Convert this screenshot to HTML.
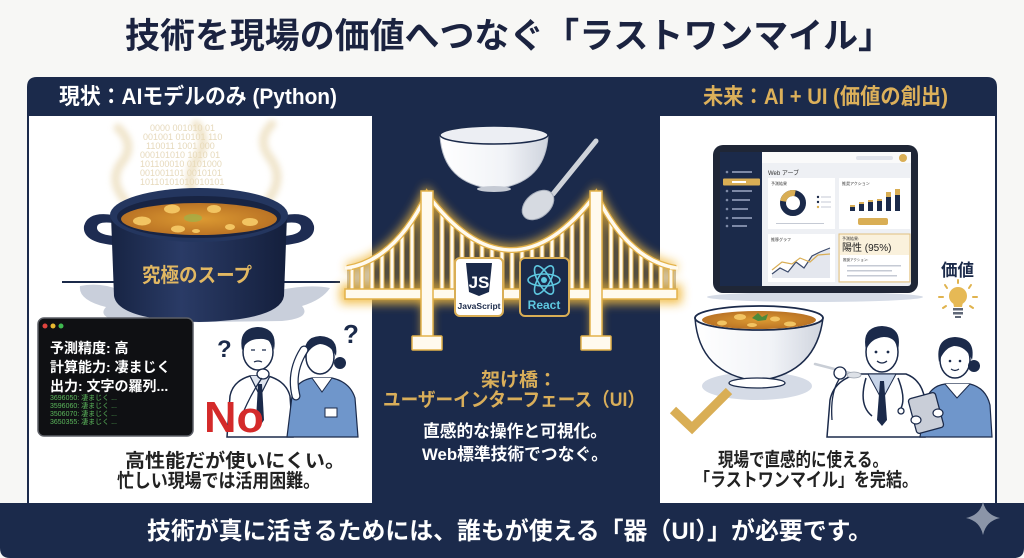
<!DOCTYPE html>
<html><head><meta charset="utf-8">
<style>
html,body{margin:0;padding:0;background:#f7f7f5;}
svg{display:block;}
text{font-family:"Liberation Sans","Noto Sans CJK JP",sans-serif;}
.mono{font-family:"Liberation Mono","Noto Sans CJK JP",monospace;}
</style></head><body>
<svg width="1024" height="558" viewBox="0 0 1024 558" xmlns="http://www.w3.org/2000/svg">
<defs>
 <filter id="glow" x="-20%" y="-40%" width="140%" height="180%"><feGaussianBlur stdDeviation="5"/></filter>
 <filter id="blur3" x="-50%" y="-50%" width="200%" height="200%"><feGaussianBlur stdDeviation="3"/></filter>
 <linearGradient id="potg" x1="0" x2="1" y1="0" y2="0">
   <stop offset="0" stop-color="#172443"/><stop offset="0.4" stop-color="#2a3b66"/><stop offset="1" stop-color="#141f3c"/>
 </linearGradient>
 <radialGradient id="soup" cx="0.5" cy="0.5" r="0.6">
   <stop offset="0" stop-color="#dc9a32"/><stop offset="1" stop-color="#b46c22"/>
 </radialGradient>
 <linearGradient id="bowlg" x1="0" x2="1" y1="0" y2="0">
   <stop offset="0" stop-color="#ffffff"/><stop offset="0.6" stop-color="#f1f3f7"/><stop offset="1" stop-color="#cfd4de"/>
 </linearGradient>
 <clipPath id="bclip">
   <path d="M347 268 Q395 260 427 194 Q511 306 596 194 Q628 260 676 268 V292 H347 Z"/>
 </clipPath>
</defs>

<rect width="1024" height="558" fill="#f7f7f5"/>

<!-- Title -->
<text x="125" y="48" font-size="35" font-weight="bold" fill="#1b2340" textLength="768" lengthAdjust="spacingAndGlyphs">技術を現場の価値へつなぐ「ラストワンマイル」</text>

<!-- Navy frame -->
<path d="M27 87 Q27 77 37 77 H987 Q997 77 997 87 V503 H1024 V548 Q1024 558 1014 558 H10 Q0 558 0 548 V503 H27 Z" fill="#1b2a4b"/>

<!-- Header labels -->
<text x="59" y="104" font-size="22" font-weight="bold" fill="#ffffff" textLength="278" lengthAdjust="spacingAndGlyphs">現状：AIモデルのみ (Python)</text>
<text x="703" y="104" font-size="22" font-weight="bold" fill="#dcb05a" textLength="245" lengthAdjust="spacingAndGlyphs">未来：AI + UI (価値の創出)</text>

<!-- White panels -->
<rect x="29" y="116" width="343" height="387" fill="#ffffff"/>
<rect x="660" y="116" width="335" height="387" fill="#ffffff"/>

<!-- ============ LEFT PANEL ============ -->
<!-- binary -->
<g class="mono" font-size="9" fill="#e6d9bb">
 <text x="150" y="131">  0000  001010   01</text>
 <text x="143" y="140">001001 010101  110</text>
 <text x="146" y="149">110011   1001  000</text>
 <text x="140" y="158">000101010 1010  01</text>
 <text x="140" y="167">101100010 0101000</text>
 <text x="140" y="176">001001101  0010101</text>
 <text x="140" y="185">10110101010010101</text>
</g>
<!-- steam -->
<g fill="none" stroke="#ebdcb9" stroke-width="9" stroke-linecap="round" opacity="0.7" filter="url(#blur3)">
 <path d="M125 200 Q108 180 122 162 Q136 145 118 128"/>
 <path d="M197 205 Q184 180 196 160 Q210 140 196 124"/>
 <path d="M268 200 Q285 178 270 158 Q256 140 272 124"/>
</g>
<!-- table line & shadow -->
<path d="M80 286 Q100 282 120 290 L280 290 Q310 284 330 288 Q322 300 302 306 Q312 318 282 321 L130 323 Q95 319 106 307 Q78 300 80 286 Z" fill="#c9cfdb"/>
<line x1="62" y1="282" x2="340" y2="282" stroke="#1b2a4a" stroke-width="2"/>
<!-- pot -->
<path d="M113 215 Q88 211 84 226 Q82 242 113 245 L113 236 Q96 234 97 227 Q98 221 113 223 Z" fill="#1e2c52"/>
<path d="M285 215 Q310 211 314 226 Q316 242 285 245 L285 236 Q302 234 301 227 Q300 221 285 223 Z" fill="#1e2c52"/>
<path d="M111 216 L114 296 Q118 320 199 322 Q280 320 284 296 L287 216 Z" fill="url(#potg)"/>
<ellipse cx="199" cy="215" rx="89" ry="27" fill="#24365f"/>
<ellipse cx="199" cy="217" rx="82" ry="21" fill="#182443"/>
<ellipse cx="199" cy="219" rx="78" ry="16" fill="url(#soup)"/>
<g fill="#f2c462">
 <ellipse cx="172" cy="209" rx="8" ry="4.5"/>
 <ellipse cx="214" cy="209" rx="7" ry="4"/>
 <ellipse cx="142" cy="221" rx="9" ry="4.5"/>
 <ellipse cx="250" cy="222" rx="8" ry="4"/>
 <ellipse cx="178" cy="229" rx="7" ry="3.5"/>
 <ellipse cx="230" cy="227" rx="5" ry="3"/>
 <ellipse cx="196" cy="231" rx="4" ry="2"/>
</g>
<ellipse cx="193" cy="218" rx="9" ry="4" fill="#9bb24a" opacity="0.7"/>
<text x="142" y="282" font-size="20" font-weight="bold" fill="#e2b862" textLength="110" lengthAdjust="spacingAndGlyphs">究極のスープ</text>

<!-- terminal -->
<rect x="38" y="318" width="155" height="118" rx="6" fill="#0f1013" stroke="#5c5f66" stroke-width="1.5"/>
<circle cx="45" cy="326" r="2.5" fill="#e0443e"/>
<circle cx="53" cy="326" r="2.5" fill="#e8b830"/>
<circle cx="61" cy="326" r="2.5" fill="#3fb950"/>
<g font-size="14" font-weight="bold" fill="#ffffff">
 <text x="50" y="353">予測精度: 高</text>
 <text x="50" y="372">計算能力: 凄まじく</text>
 <text x="50" y="391">出力: 文字の羅列...</text>
</g>
<g class="mono" font-size="7" fill="#5cb85c">
 <text x="50" y="400">3696050: 凄まじく ...</text>
 <text x="50" y="408">3596060: 凄まじく ...</text>
 <text x="50" y="416">3506070: 凄まじく ...</text>
 <text x="50" y="424">3650355: 凄まじく ...</text>
</g>

<!-- left doctor -->
<path d="M227 437 L230 396 Q233 381 250 376 L268 376 Q286 381 290 396 L293 437 Z" fill="#fff" stroke="#1b2a4a" stroke-width="1.5"/>
<path d="M250 376 L260 396 L270 376" fill="#dfe5ef" stroke="#1b2a4a" stroke-width="1.2"/>
<path d="M258 384 L262 384 L264 420 L260 426 L256 420 Z" fill="#1b2a4a"/>
<ellipse cx="258" cy="352" rx="15" ry="18" fill="#fff" stroke="#1b2a4a" stroke-width="1.5"/>
<path d="M242 350 Q238 328 258 327 Q278 328 274 350 Q272 338 259 339 Q247 339 242 350 Z" fill="#1b2a4a"/>
<path d="M251 350 h4 M262 350 h4" stroke="#1b2a4a" stroke-width="1.3"/>
<path d="M254 362 q4 -2 8 0" stroke="#1b2a4a" stroke-width="1.2" fill="none"/>
<ellipse cx="263" cy="374" rx="6" ry="5" fill="#fff" stroke="#1b2a4a" stroke-width="1.3"/>
<path d="M240 420 Q250 395 262 378" stroke="#1b2a4a" stroke-width="1.3" fill="none"/>
<!-- left nurse -->
<path d="M287 437 L292 396 Q296 381 312 378 L332 378 Q350 382 355 398 L358 437 Z" fill="#6f96cb" stroke="#1b2a4a" stroke-width="1.2"/>
<path d="M312 378 L322 392 L332 378" fill="#fff" stroke="#1b2a4a" stroke-width="1"/>
<ellipse cx="320" cy="357" rx="14" ry="17" fill="#fff" stroke="#1b2a4a" stroke-width="1.5"/>
<path d="M305 358 Q302 337 320 336 Q339 337 336 356 Q331 345 320 344 Q310 346 305 358 Z" fill="#1b2a4a"/>
<circle cx="340" cy="363" r="6" fill="#1b2a4a"/>
<path d="M296 396 Q290 372 304 350" stroke="#1b2a4a" stroke-width="9" fill="none" stroke-linecap="round"/>
<path d="M296 396 Q290 372 304 350" stroke="#fff" stroke-width="6.5" fill="none" stroke-linecap="round"/>
<rect x="325" y="408" width="12" height="9" fill="#fff" stroke="#1b2a4a" stroke-width="1"/>
<text x="217" y="357" font-size="24" font-weight="bold" fill="#1b2a4a">?</text>
<text x="343" y="343" font-size="26" font-weight="bold" fill="#1b2a4a">?</text>
<text x="204" y="432" font-size="44" font-weight="bold" fill="#d42a2a" textLength="60" lengthAdjust="spacingAndGlyphs">No</text>

<!-- left caption -->
<text x="125" y="467" font-size="19" font-weight="bold" fill="#222" textLength="220" lengthAdjust="spacingAndGlyphs">高性能だが使いにくい。</text>
<text x="117" y="487" font-size="19" font-weight="bold" fill="#222" textLength="203" lengthAdjust="spacingAndGlyphs">忙しい現場では活用困難。</text>

<!-- ============ CENTER ============ -->
<!-- bowl -->
<path d="M440 136 Q443 184 494 189 Q545 184 548 136 Z" fill="url(#bowlg)" stroke="#b9bfcb" stroke-width="1"/>
<ellipse cx="494" cy="135" rx="54" ry="9" fill="#eceef3" stroke="#1b2a4a" stroke-width="1.5"/>
<ellipse cx="494" cy="189" rx="17" ry="3" fill="#c5cad4"/>
<!-- spoon -->
<path d="M596 141 L553 194" stroke="#cfd3da" stroke-width="5" stroke-linecap="round"/>
<ellipse cx="538" cy="205" rx="18" ry="12" transform="rotate(-40 538 205)" fill="#d6dae1" stroke="#a7aebb" stroke-width="1"/>

<!-- bridge glow -->
<g filter="url(#glow)" stroke="#f1b93d" fill="none" stroke-width="9" opacity="0.95">
 <path d="M347 268 Q395 260 427 194 Q511 306 596 194 Q628 260 676 268"/>
 <rect x="345" y="289" width="332" height="10"/>
 <line x1="427" y1="192" x2="427" y2="340"/>
 <line x1="596" y1="192" x2="596" y2="340"/>
</g>
<path d="M347 268 Q395 260 427 194 Q511 306 596 194 Q628 260 676 268 V292 H347 Z" fill="#9c7a32" opacity="0.45"/>
<g clip-path="url(#bclip)" fill="#fffaee" stroke="#e3b24a" stroke-width="1">
 <rect x="350" y="180" width="4" height="115"/><rect x="360" y="180" width="4" height="115"/>
 <rect x="370" y="180" width="4" height="115"/><rect x="380" y="180" width="4" height="115"/>
 <rect x="390" y="180" width="4" height="115"/><rect x="400" y="180" width="4" height="115"/>
 <rect x="410" y="180" width="4" height="115"/>
 <rect x="440" y="180" width="4" height="115"/><rect x="450" y="180" width="4" height="115"/>
 <rect x="460" y="180" width="4" height="115"/><rect x="470" y="180" width="4" height="115"/>
 <rect x="480" y="180" width="4" height="115"/><rect x="490" y="180" width="4" height="115"/>
 <rect x="500" y="180" width="4" height="115"/><rect x="510" y="180" width="4" height="115"/>
 <rect x="520" y="180" width="4" height="115"/><rect x="530" y="180" width="4" height="115"/>
 <rect x="540" y="180" width="4" height="115"/><rect x="550" y="180" width="4" height="115"/>
 <rect x="560" y="180" width="4" height="115"/><rect x="570" y="180" width="4" height="115"/>
 <rect x="580" y="180" width="4" height="115"/>
 <rect x="609" y="180" width="4" height="115"/><rect x="619" y="180" width="4" height="115"/>
 <rect x="629" y="180" width="4" height="115"/><rect x="639" y="180" width="4" height="115"/>
 <rect x="649" y="180" width="4" height="115"/><rect x="659" y="180" width="4" height="115"/>
 <rect x="669" y="180" width="4" height="115"/>
</g>
<path d="M347 268 Q395 260 427 194 Q511 306 596 194 Q628 260 676 268" fill="none" stroke="#e3b24a" stroke-width="6"/>
<path d="M347 268 Q395 260 427 194 Q511 306 596 194 Q628 260 676 268" fill="none" stroke="#fffaee" stroke-width="3.5"/>
<path d="M345 268 H352 M670 268 H678" stroke="#fffaee" stroke-width="3"/>
<rect x="345" y="289" width="332" height="10" fill="#fffaee" stroke="#e3b24a" stroke-width="1.5"/>
<rect x="421" y="191" width="12" height="146" fill="#fffaee" stroke="#e3b24a" stroke-width="1.5"/>
<rect x="590" y="191" width="12" height="146" fill="#fffaee" stroke="#e3b24a" stroke-width="1.5"/>
<rect x="412" y="336" width="30" height="14" rx="1" fill="#fffaee" stroke="#e3b24a" stroke-width="1.5"/>
<rect x="581" y="336" width="30" height="14" rx="1" fill="#fffaee" stroke="#e3b24a" stroke-width="1.5"/>

<!-- JS box -->
<rect x="455" y="258" width="48" height="58" rx="5" fill="#ffffff" stroke="#d9ae55" stroke-width="2"/>
<path d="M466 263 H492 L489 292 L479 296 L469 292 Z" fill="#1b2a4a"/>
<text x="479" y="288" font-size="17" font-weight="bold" fill="#ffffff" text-anchor="middle">JS</text>
<text x="479" y="309" font-size="8.5" font-weight="bold" fill="#1b2a4a" text-anchor="middle">JavaScript</text>
<!-- React box -->
<rect x="520" y="258" width="49" height="58" rx="5" fill="#1b2a4a" stroke="#d9ae55" stroke-width="2"/>
<g fill="none" stroke="#5ec8e0" stroke-width="1.6">
 <ellipse cx="544" cy="280" rx="16" ry="6"/>
 <ellipse cx="544" cy="280" rx="16" ry="6" transform="rotate(60 544 280)"/>
 <ellipse cx="544" cy="280" rx="16" ry="6" transform="rotate(120 544 280)"/>
</g>
<circle cx="544" cy="280" r="3" fill="#5ec8e0"/>
<text x="544" y="309" font-size="12" font-weight="bold" fill="#5ec8e0" text-anchor="middle">React</text>

<!-- center text -->
<text x="481" y="386" font-size="19" font-weight="bold" fill="#d9ae5a">架け橋：</text>
<text x="383" y="406" font-size="19" font-weight="bold" fill="#d9ae5a" textLength="262" lengthAdjust="spacingAndGlyphs">ユーザーインターフェース（UI）</text>
<text x="423" y="437" font-size="17" font-weight="bold" fill="#ffffff" textLength="184" lengthAdjust="spacingAndGlyphs">直感的な操作と可視化。</text>
<text x="422" y="460" font-size="17" font-weight="bold" fill="#ffffff" textLength="186" lengthAdjust="spacingAndGlyphs">Web標準技術でつなぐ。</text>

<!-- ============ RIGHT PANEL ============ -->
<ellipse cx="815" cy="297" rx="108" ry="5" fill="#d5dbe6"/>
<rect x="713" y="145" width="205" height="148" rx="10" fill="#1f2636"/>
<rect x="720" y="152" width="191" height="134" rx="3" fill="#eef0f4"/>
<rect x="720" y="152" width="42" height="134" fill="#1b2a4a"/>
<rect x="762" y="152" width="149" height="11" fill="#fafafa"/>
<rect x="856" y="156" width="37" height="4" rx="2" fill="#e0e3ea"/>
<circle cx="903" cy="158" r="4" fill="#d9ae55"/>
<rect x="723" y="178.5" width="37" height="7" rx="1" fill="#d9ae55"/>
<g fill="#7d89a6">
 <circle cx="727" cy="172" r="1.3"/><rect x="732" y="171" width="20" height="2"/>
 <circle cx="727" cy="191" r="1.3"/><rect x="732" y="190" width="20" height="2"/>
 <circle cx="727" cy="200" r="1.3"/><rect x="732" y="199" width="18" height="2"/>
 <circle cx="727" cy="209" r="1.3"/><rect x="732" y="208" width="16" height="2"/>
 <circle cx="727" cy="218" r="1.3"/><rect x="732" y="217" width="20" height="2"/>
 <circle cx="727" cy="226" r="1.3"/><rect x="732" y="225" width="15" height="2"/>
</g>
<rect x="732" y="181" width="14" height="2" fill="#fff"/>
<text x="768" y="175" font-size="6" fill="#333">Web アーブ</text>
<!-- card1 -->
<rect x="768" y="178" width="67" height="51" fill="#fff"/>
<text x="771" y="185" font-size="4" fill="#333">予測結果</text>
<circle cx="793" cy="203" r="10" fill="none" stroke="#1b2a4a" stroke-width="6"/>
<circle cx="793" cy="203" r="10" fill="none" stroke="#d9ae55" stroke-width="6" stroke-dasharray="16 60" transform="rotate(190 793 203)"/>
<g fill="#1b2a4a"><circle cx="818" cy="197" r="1.2"/><circle cx="818" cy="202" r="1.2"/></g>
<circle cx="818" cy="207" r="1.2" fill="#d9ae55"/>
<g fill="#c5cad4"><rect x="821" y="196.5" width="10" height="1"/><rect x="821" y="201.5" width="10" height="1"/><rect x="821" y="206.5" width="10" height="1"/><rect x="776" y="223" width="48" height="1"/></g>
<!-- card2 -->
<rect x="839" y="178" width="71" height="51" fill="#fff"/>
<text x="842" y="185" font-size="4" fill="#333">推奨アクション</text>
<g fill="#1b2a4a">
 <rect x="850" y="207" width="5" height="4"/><rect x="859" y="204" width="5" height="7"/>
 <rect x="868" y="202" width="5" height="9"/><rect x="877" y="201" width="5" height="10"/>
 <rect x="886" y="197" width="5" height="14"/><rect x="895" y="195" width="5" height="16"/>
</g>
<g fill="#d9ae55">
 <rect x="850" y="205" width="5" height="2"/><rect x="859" y="202" width="5" height="2"/>
 <rect x="868" y="200" width="5" height="2"/><rect x="877" y="199" width="5" height="2"/>
 <rect x="886" y="192" width="5" height="5"/><rect x="895" y="189" width="5" height="6"/>
 <rect x="858" y="218" width="30" height="7" rx="2"/>
</g>
<!-- card3 -->
<rect x="768" y="234" width="67" height="48" fill="#fff"/>
<text x="771" y="241" font-size="4" fill="#333">推移グラフ</text>
<path d="M772 274 L780 268 L788 272 L796 262 L804 268 L812 256 L820 252 L830 248 V278 H772 Z" fill="#e4e7ee"/>
<polyline points="772,274 780,268 788,272 796,262 804,268 812,256 820,252 830,248" fill="none" stroke="#3b4a6b" stroke-width="1.2"/>
<polyline points="772,270 782,262 792,264 800,258 810,262 818,255 830,254" fill="none" stroke="#d9ae55" stroke-width="1.2"/>
<!-- card4 -->
<rect x="839" y="234" width="71" height="48" fill="#faf1dc" stroke="#e0c080" stroke-width="1"/>
<text x="842" y="240" font-size="4" fill="#333">予測結果:</text>
<text x="842" y="251" font-size="10" fill="#222">陽性 (95%)</text>
<rect x="840" y="255" width="69" height="26" fill="#fff"/>
<text x="843" y="261" font-size="3.5" fill="#333">推奨アクション:</text>
<g fill="#c5cad4"><rect x="847" y="265" width="54" height="1.5"/><rect x="847" y="270" width="45" height="1.5"/><rect x="847" y="275" width="50" height="1.5"/></g>

<!-- 価値 + bulb -->
<text x="941" y="276" font-size="17" font-weight="bold" fill="#1b2a4a" textLength="33" lengthAdjust="spacingAndGlyphs">価値</text>
<g stroke="#e0b34e" stroke-width="2" stroke-linecap="round">
 <line x1="958" y1="280" x2="958" y2="283"/>
 <line x1="945" y1="285" x2="947" y2="288"/>
 <line x1="971" y1="285" x2="969" y2="288"/>
 <line x1="939" y1="297" x2="943" y2="297"/>
 <line x1="977" y1="297" x2="973" y2="297"/>
 <line x1="943" y1="308" x2="946" y2="306"/>
 <line x1="973" y1="308" x2="970" y2="306"/>
</g>
<circle cx="958" cy="296" r="9" fill="#e6b955"/>
<path d="M953 302 L963 302 L962 307 L954 307 Z" fill="#e6b955"/>
<g fill="#5f6777"><rect x="953" y="308" width="10" height="2.5"/><rect x="953" y="312" width="10" height="2.5"/><rect x="955" y="316" width="6" height="2"/></g>

<!-- bowl -->
<ellipse cx="757" cy="386" rx="55" ry="14" fill="#d5dbe6"/>
<path d="M695 318 Q699 374 757 381 Q816 374 823 318 Z" fill="url(#bowlg)" stroke="#1b2a4a" stroke-width="1.5"/>
<ellipse cx="757" cy="383" rx="28" ry="5" fill="#fff" stroke="#1b2a4a" stroke-width="1.3"/>
<ellipse cx="759" cy="318" rx="64" ry="12" fill="#fff" stroke="#1b2a4a" stroke-width="1.8"/>
<ellipse cx="759" cy="320" rx="57" ry="9" fill="url(#soup)"/>
<g fill="#f2c462">
 <ellipse cx="740" cy="317" rx="6" ry="3"/><ellipse cx="775" cy="319" rx="5" ry="2.5"/>
 <ellipse cx="722" cy="323" rx="5" ry="2.5"/><ellipse cx="790" cy="324" rx="6" ry="2.5"/>
 <ellipse cx="752" cy="325" rx="5" ry="2"/>
</g>
<path d="M752 318 l6 -5 l4 4 l6 -3 l-2 6 l-8 1 Z" fill="#4d8a3a"/>
<!-- check -->
<polyline points="673,410 692,428 729,391" fill="none" stroke="#d9ae55" stroke-width="9"/>

<!-- right doctor -->
<path d="M827 437 L830 400 Q834 380 858 374 L906 374 Q922 380 925 400 L925 437 Z" fill="#fff" stroke="#1b2a4a" stroke-width="1.5"/>
<path d="M868 374 L882 400 L896 374 Z" fill="#c7d4e8" stroke="#1b2a4a" stroke-width="1"/>
<path d="M880 381 L884 381 L887 420 L882 426 L877 420 Z" fill="#1b2a4a"/>
<path d="M866 378 Q858 405 872 416" stroke="#1b2a4a" stroke-width="1.5" fill="none"/>
<path d="M898 378 Q906 398 901 408" stroke="#1b2a4a" stroke-width="1.5" fill="none"/>
<circle cx="901" cy="411" r="3" fill="#fff" stroke="#1b2a4a" stroke-width="1.3"/>
<ellipse cx="882" cy="352" rx="16" ry="20" fill="#fff" stroke="#1b2a4a" stroke-width="1.5"/>
<path d="M866 350 Q861 327 882 326 Q903 327 898 350 Q896 337 884 337 Q871 338 866 350 Z" fill="#1b2a4a"/>
<circle cx="876" cy="352" r="1.4" fill="#1b2a4a"/><circle cx="888" cy="352" r="1.4" fill="#1b2a4a"/>
<path d="M877 361 q5 4 10 0" stroke="#1b2a4a" stroke-width="1.2" fill="none"/>
<path d="M832 420 Q830 392 840 378" stroke="#1b2a4a" stroke-width="1.3" fill="none"/>
<line x1="815" y1="364" x2="850" y2="373" stroke="#c9ced6" stroke-width="2.5" stroke-linecap="round"/>
<ellipse cx="854" cy="375" rx="7" ry="3" fill="#dde1e7" stroke="#9aa1ad" stroke-width="0.8"/>
<ellipse cx="840" cy="373" rx="6" ry="6" fill="#fff" stroke="#1b2a4a" stroke-width="1.3"/>
<!-- right nurse -->
<path d="M920 437 L925 402 Q930 386 945 384 L970 384 Q986 388 990 405 L992 437 Z" fill="#6f96cb" stroke="#1b2a4a" stroke-width="1.2"/>
<path d="M945 384 L957 398 L970 384" fill="#fff" stroke="#1b2a4a" stroke-width="1"/>
<ellipse cx="955" cy="360" rx="15" ry="18" fill="#fff" stroke="#1b2a4a" stroke-width="1.5"/>
<path d="M939 362 Q935 338 955 337 Q976 338 972 360 Q966 346 954 346 Q944 348 939 362 Z" fill="#1b2a4a"/>
<circle cx="974" cy="366" r="6" fill="#1b2a4a"/>
<circle cx="950" cy="361" r="1.3" fill="#1b2a4a"/><circle cx="960" cy="361" r="1.3" fill="#1b2a4a"/>
<path d="M951 369 q4 3 8 0" stroke="#1b2a4a" stroke-width="1.1" fill="none"/>
<rect x="912" y="395" width="28" height="36" rx="3" transform="rotate(-15 926 413)" fill="#c9ced8" stroke="#1b2a4a" stroke-width="1.3"/>
<ellipse cx="938" cy="413" rx="5" ry="4" fill="#fff" stroke="#1b2a4a" stroke-width="1.2"/>
<ellipse cx="916" cy="420" rx="5" ry="4" fill="#fff" stroke="#1b2a4a" stroke-width="1.2"/>

<!-- right caption -->
<text x="718" y="466" font-size="19" font-weight="bold" fill="#222" textLength="170" lengthAdjust="spacingAndGlyphs">現場で直感的に使える。</text>
<text x="694" y="486" font-size="19" font-weight="bold" fill="#222" textLength="224" lengthAdjust="spacingAndGlyphs">「ラストワンマイル」を完結。</text>

<!-- bottom text -->
<text x="147" y="539" font-size="24" font-weight="bold" fill="#ffffff" textLength="725" lengthAdjust="spacingAndGlyphs">技術が真に活きるためには、誰もが使える「器（UI）」が必要です。</text>
<!-- sparkle -->
<path d="M983 502 Q986 515 1000 518 Q986 521 983 535 Q980 521 966 518 Q980 515 983 502 Z" fill="#8b95a8"/>
</svg>
</body></html>
